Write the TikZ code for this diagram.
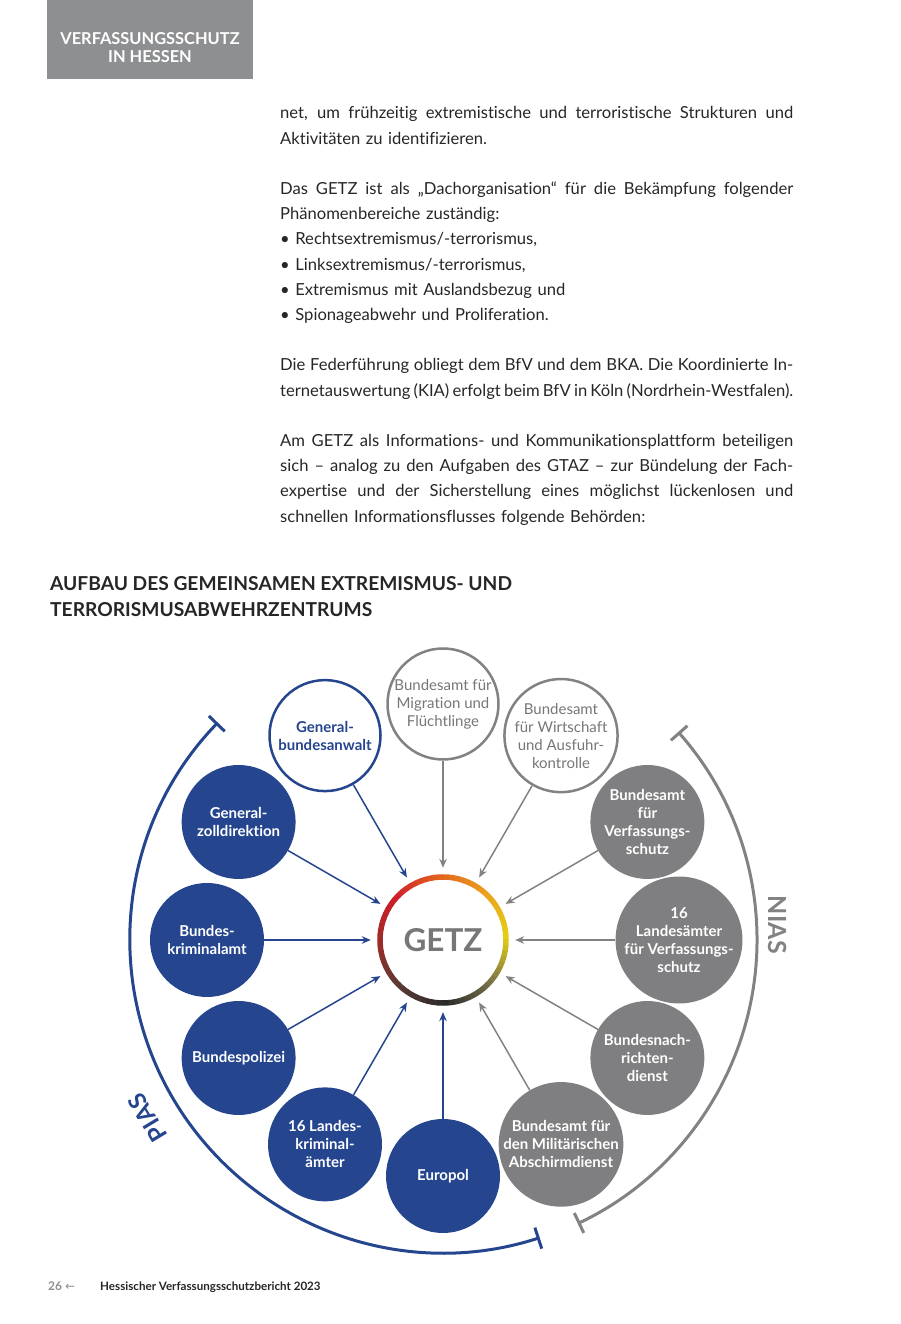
\documentclass[tikz,border=0pt]{standalone}
\usepackage{fontspec}
\setmainfont{Lato}[Ligatures={TeX,NoCommon}]
\newfontfamily\arrowfont{DejaVu Sans}
\usepackage{xcolor}
\usepackage{tikz}
\usetikzlibrary{arrows.meta,positioning,calc}
\definecolor{hessenBlue}{HTML}{25468E}
\definecolor{muted}{HTML}{7F7F81}
\definecolor{headGray}{HTML}{8E8F91}
\definecolor{ink}{HTML}{262626}
\definecolor{line}{HTML}{828282}
\definecolor{getzGray}{HTML}{777777}
\definecolor{ringYellow}{HTML}{E4CF14}
\definecolor{ringGold}{HTML}{EBA21E}
\definecolor{ringOrange}{HTML}{E2641E}
\definecolor{ringRed}{HTML}{CF1F2A}
\definecolor{ringDark}{HTML}{9C2B28}
\definecolor{ringBrown}{HTML}{5A3A34}
\definecolor{ringBlack}{HTML}{2A2A2A}
\definecolor{ringOlive}{HTML}{77704A}
\newcommand{\jline}[1]{\makebox[513pt][s]{\spaceskip=0pt\xspaceskip=0pt #1}}

\begin{document}
\begin{tikzpicture}[x=1pt,y=1pt,
    blueDisk/.style={circle,fill=hessenBlue,minimum size=114pt,inner sep=0pt,align=center,text=white,font=\bfseries\fontsize{15}{18}\selectfont},
    grayDisk/.style={circle,fill=muted,minimum size=114pt,inner sep=0pt,align=center,text=white,font=\bfseries\fontsize{15}{18}\selectfont},
    blueRim/.style={circle,draw=hessenBlue,line width=2.5pt,fill=white,minimum size=111pt,inner sep=0pt,align=center,text=hessenBlue,font=\bfseries\fontsize{15}{18}\selectfont},
    grayRim/.style={circle,draw=line,line width=2.5pt,fill=white,minimum size=111pt,inner sep=0pt,align=center,text=getzGray,font=\fontsize{15}{18}\selectfont},
    feed/.style={-{Stealth[length=9pt,width=7.5pt]},line width=1.5pt,shorten >=6pt},
    span/.style={line width=3pt,{Bar[width=22pt]}-{Bar[width=22pt]}}]
  \useasboundingbox (0,0) rectangle (900,1324);

  \fill[headGray] (47,1245) rectangle (253,1324);
  \node[align=center,text=white,font=\bfseries\fontsize{16.4}{18}\selectfont] (head) at (150,1276) {VERFASSUNGSSCHUTZ\\IN HESSEN};

  \node[anchor=base west,text width=513pt,align=left,inner sep=0pt,text=ink,font=\fontsize{16.6}{25.2}\selectfont] (body) at (280,1205) {%
    \jline{net, um frühzeitig extremistische und terroristische Strukturen und}\\
    Aktivitäten zu identifizieren.\\[25.2pt]
    \jline{Das GETZ ist als „Dachorganisation“ für die Bekämpfung folgender}\\
    Phänomenbereiche zuständig:\\
    • Rechtsextremismus/-terrorismus,\\
    • Linksextremismus/-terrorismus,\\
    • Extremismus mit Auslandsbezug und\\
    • Spionageabwehr und Proliferation.\\[25.2pt]
    \jline{Die Federführung obliegt dem BfV und dem BKA. Die Koordinierte In-}\\
    \jline{ternetauswertung (KIA) erfolgt beim BfV in Köln (Nordrhein-Westfalen).}\\[25.2pt]
    \jline{Am GETZ als Informations- und Kommunikationsplattform beteiligen}\\
    \jline{sich – analog zu den Aufgaben des GTAZ – zur Bündelung der Fach-}\\
    \jline{expertise und der Sicherstellung eines möglichst lückenlosen und}\\
    schnellen Informationsflusses folgende Behörden:};

  \node[anchor=base west,align=left,inner sep=0pt,text=ink,font=\bfseries\fontsize{19.2}{26}\selectfont] (title) at (50,707) {AUFBAU DES GEMEINSAMEN EXTREMISMUS- UND\\TERRORISMUSABWEHRZENTRUMS};

  \coordinate (c) at (443,384);
  \foreach \a/\ca/\cb in {0/ringYellow/ringGold,45/ringGold/ringOrange,90/ringOrange/ringRed,135/ringRed/ringDark,180/ringDark/ringBrown,225/ringBrown/ringBlack,270/ringBlack/ringOlive,315/ringOlive/ringYellow}
    \foreach \k in {0,...,8}{
      \pgfmathsetmacro{\share}{100-\k*11.1}
      \pgfmathsetmacro{\from}{\a+\k*5}
      \draw[line width=5.5pt,draw=\ca!\share!\cb] (c) ++(\from:63) arc[start angle=\from,end angle=\from+5.6,radius=63];
    }
  \node[circle,minimum size=132pt,inner sep=0pt,text=getzGray,font=\bfseries\fontsize{31.5}{32}\selectfont] (getz) at (c) {GETZ};

  \node[grayRim] (bamf) at ($(c)+(90:236)$) {Bundesamt für\\Migration und\\Flüchtlinge};
  \node[blueRim] (gba) at ($(c)+(120:236)$) {General-\\bundesanwalt};
  \node[grayRim] (bafa) at ($(c)+(60:236)$) {Bundesamt\\für Wirtschaft\\und Ausfuhr-\\kontrolle};
  \node[blueDisk] (gzd) at ($(c)+(150:236)$) {General-\\zolldirektion};
  \node[grayDisk] (bfv) at ($(c)+(30:236)$) {Bundesamt\\für\\Verfassungs-\\schutz};
  \node[blueDisk] (bka) at ($(c)+(180:236)$) {Bundes-\\kriminalamt};
  \node[grayDisk] (lfv) at ($(c)+(0:236)$) {16\\Landesämter\\für Verfassungs-\\schutz};
  \node[blueDisk] (bpol) at ($(c)+(210:236)$) {Bundespolizei};
  \node[grayDisk] (bnd) at ($(c)+(330:236)$) {Bundesnach-\\richten-\\dienst};
  \node[blueDisk] (lka) at ($(c)+(240:236)$) {16 Landes-\\kriminal-\\ämter};
  \node[grayDisk] (mad) at ($(c)+(300:236)$) {Bundesamt für\\den Militärischen\\Abschirmdienst};
  \node[blueDisk] (europol) at ($(c)+(270:236)$) {Europol};

  \foreach \src in {gba,gzd,bka,bpol,lka,europol}
    \draw[feed,hessenBlue] (\src) -- (getz);
  \foreach \src in {bamf,bafa,bfv,lfv,bnd,mad}
    \draw[feed,line] (\src) -- (getz);

  \draw[span,hessenBlue] ($(c)+(136:313)$) arc[start angle=136,end angle=288,radius=313];
  \draw[span,line] ($(c)+(41.5:314)$) arc[start angle=41.5,end angle=-64.6,radius=314];
  \node[rotate=121,text=hessenBlue,font=\bfseries\fontsize{24}{24}\selectfont] (pias) at ($(c)+(211:345)$) {PIAS};
  \node[rotate=-90,text=line,font=\bfseries\fontsize{25}{25}\selectfont] (nias) at ($(c)+(2.6:335)$) {NIAS};

  \node[anchor=base west,inner sep=0pt,text=headGray,font=\bfseries\fontsize{12}{14}\selectfont] (page) at (48,33) {26 {\arrowfont\mdseries ←}};
  \node[anchor=base west,inner sep=0pt,text=ink,font=\bfseries\fontsize{11.6}{14}\selectfont] (foot) at (100,33) {Hessischer Verfassungsschutzbericht 2023};
\end{tikzpicture}
\end{document}
